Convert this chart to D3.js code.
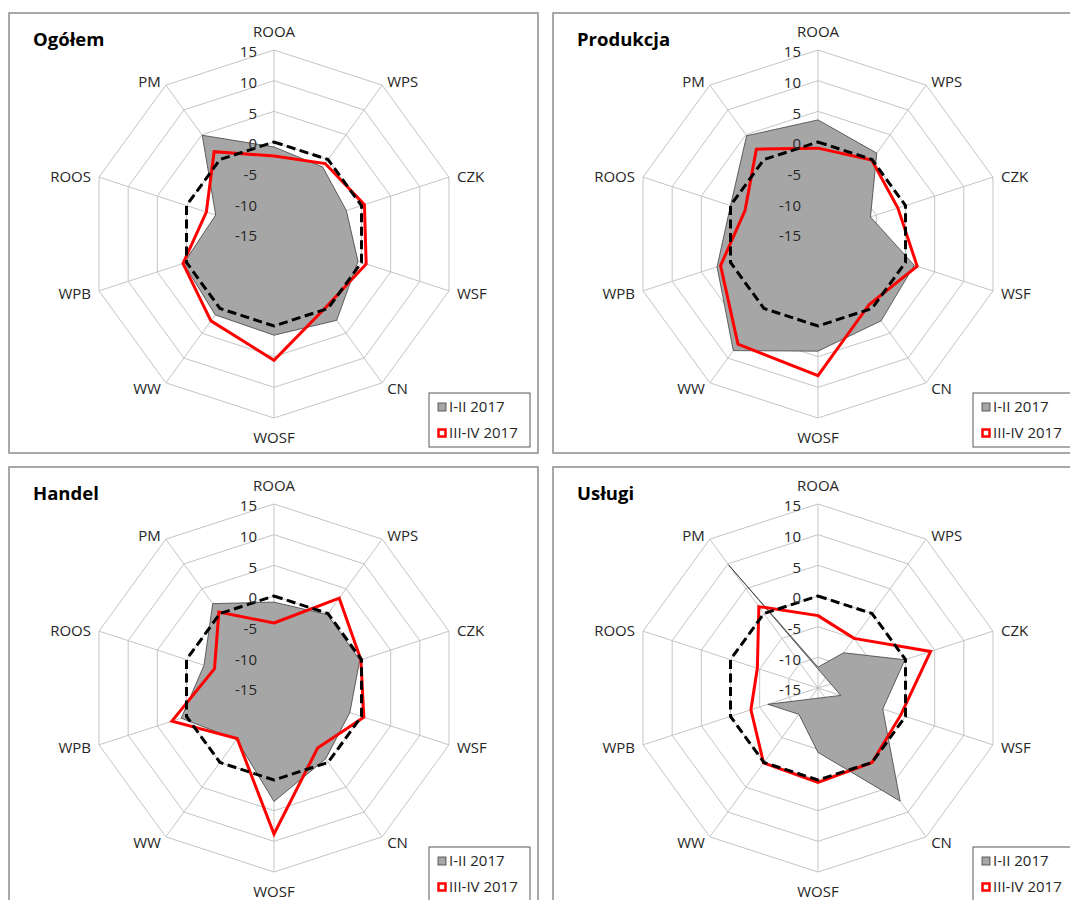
<!DOCTYPE html>
<html>
<head>
<meta charset="utf-8">
<script src="https://cdn.jsdelivr.net/npm/d3@7"></script>
<style>
  body { margin: 0; background: #ffffff; }
  svg text { font-family: "Open Sans", "Noto Sans", sans-serif; }
</style>
</head>
<body>
<svg id="chart" width="1070" height="900"></svg>
<script>
// ---------------- data ----------------
const axes = ["ROOA", "WPS", "CZK", "WSF", "CN", "WOSF", "WW", "WPB", "ROOS", "PM"];
const tickValues = [-15, -10, -5, 0, 5, 10, 15];
const panelTitles = ["Ogółem", "Produkcja", "Handel", "Usługi"];
const seriesNames = ["I-II 2017", "III-IV 2017"];

// I-II 2017 (grey area)
const ogolem_I_II    = [-0.8, -1.5, -2.6, -0.6, 2.4, 1.5, 1.3, 0.5, -5.0, 4.9];
const produkcja_I_II = [3.6, 1.3, -6.0, 1.5, 2.5, 4.1, 8.5, 2.3, 0.0, 4.8];
const handel_I_II    = [-1.0, -0.2, -0.3, -2.0, -0.7, 3.5, -4.6, 0.9, -3.0, 2.0];
const uslugi_I_II    = [-11.6, -7.9, -0.1, -3.9, 7.8, -4.5, -9.7, -6.4, -18.9, 9.8];

// III-IV 2017 (red line)
const ogolem_III_IV    = [-2.3, -0.8, 0.5, 0.8, -0.4, 5.6, 2.5, 0.6, -3.4, 1.6];
const produkcja_III_IV = [-1.0, -0.1, -1.3, 2.0, -0.8, 8.1, 7.2, 1.7, -2.5, 2.1];
const handel_III_IV    = [-4.4, 3.1, -0.1, 0.4, -2.9, 8.8, -4.8, 2.5, -4.8, 0.3];
const uslugi_III_IV    = [-3.2, -5.0, 4.3, -0.8, 0.0, 0.4, 0.1, -3.5, -4.6, 1.4];

// reference level (black dashed line)
const referenceLine = [0, 0, 0, 0, 0, 0, 0, 0, 0, 0];

const panelsI   = [ogolem_I_II, produkcja_I_II, handel_I_II, uslugi_I_II];
const panelsIII = [ogolem_III_IV, produkcja_III_IV, handel_III_IV, uslugi_III_IV];

// ---------------- layout ----------------
const svg = d3.select("#chart");
const panelW = 529, panelH = 440;
const panelOrigins = [[9, 13], [553, 13], [9, 467], [553, 467]];
const R = 184;
const cx = 265, cy = 221;
const textColor = "#262626";

const rScale = d3.scaleLinear().domain([-15, 15]).range([0, R]);
const angle = i => i * 2 * Math.PI / axes.length;

const radialLine = d3.lineRadial()
  .angle((d, i) => angle(i))
  .radius(d => rScale(d))
  .curve(d3.curveLinearClosed);

panelTitles.forEach((title, p) => {
  const [px, py] = panelOrigins[p];
  const g = svg.append("g").attr("transform", `translate(${px},${py})`);

  g.append("rect")
    .attr("x", 0).attr("y", 0).attr("width", panelW).attr("height", panelH)
    .attr("fill", "#ffffff").attr("stroke", "#8c8c8c").attr("stroke-width", 1.5);

  g.append("text")
    .attr("x", 24).attr("y", 33)
    .attr("font-size", 18.5).attr("font-weight", "bold").attr("fill", "#000")
    .text(title);

  const c = g.append("g").attr("transform", `translate(${cx},${cy})`);

  // grid rings (decagons)
  tickValues.slice(1).forEach(t => {
    c.append("path")
      .attr("d", radialLine(axes.map(() => t)))
      .attr("fill", "none").attr("stroke", "#c4c4c4").attr("stroke-width", 1);
  });
  // spokes
  axes.forEach((a, i) => {
    const ang = angle(i);
    c.append("line")
      .attr("x1", 0).attr("y1", 0)
      .attr("x2", rScale(15) * Math.sin(ang)).attr("y2", -rScale(15) * Math.cos(ang))
      .attr("stroke", "#c4c4c4").attr("stroke-width", 1);
  });

  // grey area series
  c.append("path")
    .attr("d", radialLine(panelsI[p]))
    .attr("fill", "#a6a6a6").attr("fill-rule", "evenodd")
    .attr("stroke", "#404040").attr("stroke-width", 0.8)
    .attr("stroke-linejoin", "miter");

  // red line series
  c.append("path")
    .attr("d", radialLine(panelsIII[p]))
    .attr("fill", "none").attr("stroke", "#ff0000").attr("stroke-width", 3)
    .attr("stroke-linejoin", "miter");

  // dashed reference
  c.append("path")
    .attr("d", radialLine(referenceLine))
    .attr("fill", "none").attr("stroke", "#000").attr("stroke-width", 3)
    .attr("stroke-dasharray", "9,4.5");

  // tick labels
  tickValues.forEach(t => {
    c.append("text")
      .attr("x", -17).attr("y", -rScale(t) + 2)
      .attr("dy", "0.35em")
      .attr("text-anchor", "end")
      .attr("font-size", 15).attr("fill", textColor)
      .text(t);
  });

  // axis labels
  axes.forEach((a, i) => {
    const ang = angle(i);
    const s = Math.sin(ang), co = Math.cos(ang);
    const vx = R * s, vy = -R * co;
    let x, yc, anchor;
    if (Math.abs(s) < 0.1) {
      anchor = "middle";
      x = vx;
      yc = co > 0 ? vy - 18 : vy + 20;
    } else {
      const gap = Math.abs(s) > 0.9 ? 8 : 5;
      anchor = s > 0 ? "start" : "end";
      x = vx + (s > 0 ? gap : -gap);
      yc = vy - co * 6 + 1;
    }
    c.append("text")
      .attr("x", x).attr("y", yc).attr("dy", "0.35em")
      .attr("text-anchor", anchor)
      .attr("font-size", 15).attr("fill", textColor)
      .text(a);
  });

  // legend
  const lg = g.append("g").attr("transform", "translate(420,380)");
  lg.append("rect").attr("width", 101).attr("height", 54)
    .attr("fill", "#fff").attr("stroke", "#595959").attr("stroke-width", 1);
  seriesNames.forEach((name, k) => {
    const yy = 14 + k * 26;
    if (k === 0) {
      lg.append("rect").attr("x", 9).attr("y", yy - 4).attr("width", 8).attr("height", 8)
        .attr("fill", "#a6a6a6").attr("stroke", "#404040").attr("stroke-width", 0.8);
    } else {
      lg.append("rect").attr("x", 9.5).attr("y", yy - 3.5).attr("width", 7).attr("height", 7)
        .attr("fill", "#fff").attr("stroke", "#ff0000").attr("stroke-width", 2.5);
    }
    lg.append("text").attr("x", 20).attr("y", yy).attr("dy", "0.35em")
      .attr("font-size", 15).attr("fill", textColor).text(name);
  });
});
</script>
</body>
</html>
